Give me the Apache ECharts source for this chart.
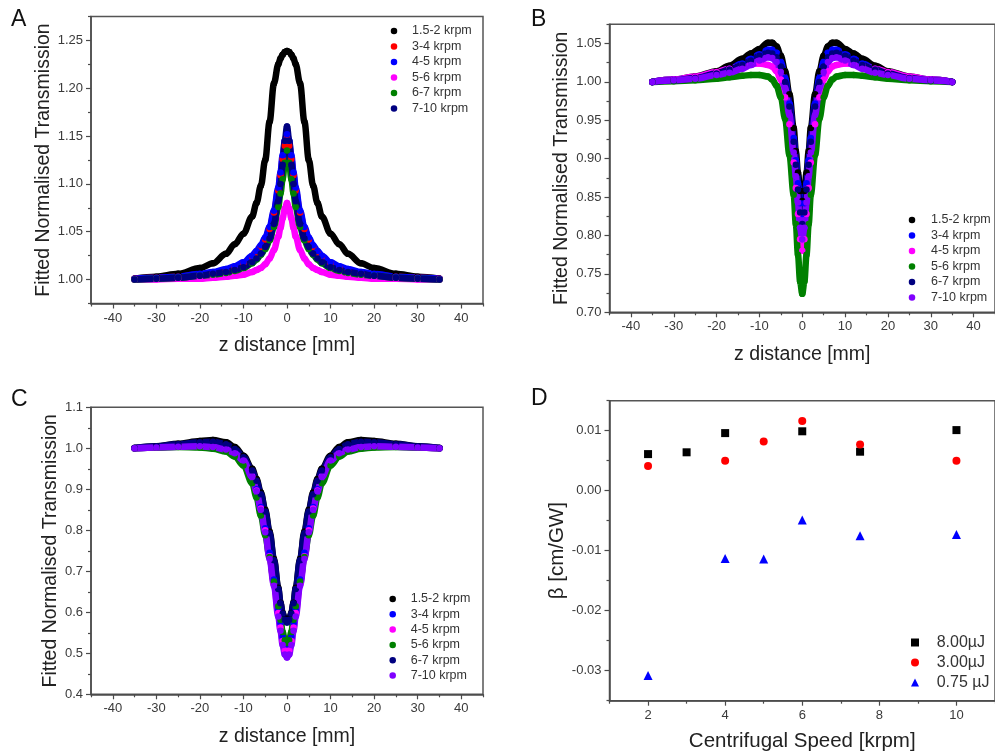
<!DOCTYPE html>
<html><head><meta charset="utf-8">
<script src="https://cdn.jsdelivr.net/npm/echarts@6.0.0/dist/echarts.min.js"></script>
<style>html,body{margin:0;padding:0;background:#fff}#c{width:995px;height:755px}</style>
</head><body><div id="c"></div>
<script>
// ---------- DATA ----------
const Z = [-35,-30,-25,-20,-17,-14,-12,-10,-8,-7,-6,-5,-4,-3,-2,-1.5,-1,-0.5,0,0.5,1,1.5,2,3,4,5,6,7,8,10,12,14,17,20,25,30,35];
const SERIES_NAMES = ['1.5-2 krpm','3-4 krpm','4-5 krpm','5-6 krpm','6-7 krpm','7-10 krpm'];

// Panel A
const A_1_5_2 = [1.001,1.003,1.006,1.012,1.017,1.027,1.037,1.048,1.066,1.080,1.098,1.125,1.165,1.205,1.225,1.231,1.235,1.238,1.239,1.238,1.235,1.231,1.225,1.205,1.165,1.125,1.098,1.080,1.066,1.048,1.037,1.027,1.017,1.012,1.006,1.003,1.001];
const A_3_4 = [1.001,1.002,1.003,1.005,1.007,1.010,1.013,1.017,1.024,1.028,1.034,1.042,1.053,1.070,1.093,1.109,1.126,1.140,1.148,1.140,1.126,1.109,1.093,1.070,1.053,1.042,1.034,1.028,1.024,1.017,1.013,1.010,1.007,1.005,1.003,1.002,1.001];
const A_4_5 = [1.001,1.002,1.003,1.006,1.008,1.011,1.014,1.018,1.025,1.030,1.036,1.044,1.055,1.072,1.096,1.112,1.130,1.145,1.152,1.145,1.130,1.112,1.096,1.072,1.055,1.044,1.036,1.030,1.025,1.018,1.014,1.011,1.008,1.006,1.003,1.002,1.001];
const A_5_6 = [1.000,1.000,1.001,1.001,1.002,1.003,1.004,1.005,1.008,1.010,1.012,1.016,1.022,1.031,1.045,1.054,1.064,1.074,1.080,1.074,1.064,1.054,1.045,1.031,1.022,1.016,1.012,1.010,1.008,1.005,1.004,1.003,1.002,1.001,1.001,1.000,1.000];
const A_6_7 = [1.000,1.001,1.002,1.004,1.005,1.007,1.009,1.012,1.017,1.021,1.026,1.032,1.041,1.055,1.076,1.090,1.105,1.122,1.135,1.122,1.105,1.090,1.076,1.055,1.041,1.032,1.026,1.021,1.017,1.012,1.009,1.007,1.005,1.004,1.002,1.001,1.000];
const A_7_10 = [1.000,1.001,1.002,1.004,1.006,1.008,1.010,1.013,1.018,1.022,1.027,1.034,1.043,1.058,1.082,1.100,1.120,1.145,1.160,1.145,1.120,1.100,1.082,1.058,1.043,1.034,1.027,1.022,1.018,1.013,1.010,1.008,1.006,1.004,1.002,1.001,1.000];

// Panel B
const B_1_5_2 = [1.000,1.003,1.007,1.014,1.021,1.030,1.037,1.043,1.051,1.051,1.046,1.034,1.014,0.984,0.940,0.910,0.882,0.858,0.845,0.858,0.882,0.910,0.940,0.984,1.014,1.034,1.046,1.051,1.051,1.043,1.037,1.030,1.021,1.014,1.007,1.003,1.000];
const B_3_4 = [1.000,1.003,1.006,1.012,1.017,1.024,1.030,1.036,1.042,1.042,1.038,1.026,1.005,0.972,0.927,0.898,0.868,0.842,0.828,0.842,0.868,0.898,0.927,0.972,1.005,1.026,1.038,1.042,1.042,1.036,1.030,1.024,1.017,1.012,1.006,1.003,1.000];
const B_4_5 = [1.000,1.003,1.007,1.013,1.017,1.021,1.023,1.024,1.022,1.020,1.014,1.003,0.980,0.945,0.895,0.862,0.828,0.795,0.780,0.795,0.828,0.862,0.895,0.945,0.980,1.003,1.014,1.020,1.022,1.024,1.023,1.021,1.017,1.013,1.007,1.003,1.000];
const B_5_6 = [1.000,1.001,1.002,1.004,1.006,1.008,1.009,1.009,1.007,1.003,0.995,0.980,0.952,0.905,0.853,0.815,0.775,0.740,0.724,0.740,0.775,0.815,0.853,0.905,0.952,0.980,0.995,1.003,1.007,1.009,1.009,1.008,1.006,1.004,1.002,1.001,1.000];
const B_6_7 = [1.000,1.002,1.005,1.011,1.016,1.022,1.028,1.034,1.038,1.037,1.032,1.020,1.000,0.968,0.922,0.892,0.860,0.830,0.815,0.830,0.860,0.892,0.922,0.968,1.000,1.020,1.032,1.037,1.038,1.034,1.028,1.022,1.016,1.011,1.005,1.002,1.000];
const B_7_10 = [1.000,1.002,1.004,1.009,1.012,1.017,1.022,1.028,1.032,1.031,1.026,1.013,0.992,0.957,0.908,0.877,0.843,0.810,0.795,0.810,0.843,0.877,0.908,0.957,0.992,1.013,1.026,1.031,1.032,1.028,1.022,1.017,1.012,1.009,1.004,1.002,1.000];

// Panel C
const C_1_5_2 = [1.001,1.005,1.011,1.018,1.020,1.015,1.003,0.982,0.950,0.925,0.892,0.850,0.797,0.730,0.660,0.623,0.598,0.585,0.580,0.585,0.598,0.623,0.660,0.730,0.797,0.850,0.892,0.925,0.950,0.982,1.003,1.015,1.020,1.018,1.011,1.005,1.001];
const C_3_4 = [1.000,1.002,1.004,1.006,1.004,0.999,0.990,0.972,0.933,0.900,0.857,0.805,0.745,0.680,0.607,0.573,0.540,0.517,0.510,0.517,0.540,0.573,0.607,0.680,0.745,0.805,0.857,0.900,0.933,0.972,0.990,0.999,1.004,1.006,1.004,1.002,1.000];
const C_4_5 = [1.000,1.002,1.004,1.005,1.004,0.998,0.989,0.971,0.931,0.897,0.853,0.800,0.737,0.670,0.598,0.563,0.530,0.507,0.500,0.507,0.530,0.563,0.598,0.670,0.737,0.800,0.853,0.897,0.931,0.971,0.989,0.998,1.004,1.005,1.004,1.002,1.000];
const C_5_6 = [1.000,1.002,1.003,1.002,0.999,0.992,0.980,0.958,0.915,0.880,0.836,0.788,0.735,0.675,0.615,0.582,0.552,0.532,0.525,0.532,0.552,0.582,0.615,0.675,0.735,0.788,0.836,0.880,0.915,0.958,0.980,0.992,0.999,1.002,1.003,1.002,1.000];
const C_6_7 = [1.001,1.005,1.010,1.015,1.016,1.010,0.998,0.978,0.946,0.921,0.888,0.846,0.793,0.727,0.657,0.622,0.597,0.582,0.575,0.582,0.597,0.622,0.657,0.727,0.793,0.846,0.888,0.921,0.946,0.978,0.998,1.010,1.016,1.015,1.010,1.005,1.001];
const C_7_10 = [1.000,1.002,1.004,1.005,1.003,0.997,0.988,0.970,0.930,0.895,0.850,0.795,0.730,0.665,0.590,0.555,0.520,0.497,0.490,0.497,0.520,0.555,0.590,0.665,0.730,0.795,0.850,0.895,0.930,0.970,0.988,0.997,1.003,1.005,1.004,1.002,1.000];

// Panel D
const D_NAMES = ['8.00\u00b5J','3.00\u00b5J','0.75 \u00b5J'];
const D_X_800 = [2,3,4,6,7.5,10];
const D_Y_800 = [0.0061,0.0064,0.0096,0.0099,0.0065,0.0101];
const D_X_300 = [2,4,5,6,7.5,10];
const D_Y_300 = [0.0041,0.0050,0.0082,0.0116,0.0077,0.0050];
const D_X_075 = [2,4,5,6,7.5,10];
const D_Y_075 = [-0.0308,-0.0113,-0.0114,-0.0049,-0.0075,-0.0073];

// Tick values
const Z_TICKS = [-40,-30,-20,-10,0,10,20,30,40];
const Z_MINOR = [-45,-35,-25,-15,-5,5,15,25,35,45];
const A_Y_TICKS = [1.00,1.05,1.10,1.15,1.20,1.25];
const A_Y_MINOR = [0.975,1.025,1.075,1.125,1.175,1.225,1.275];
const B_Y_TICKS = [0.70,0.75,0.80,0.85,0.90,0.95,1.00,1.05];
const B_Y_MINOR = [0.725,0.775,0.825,0.875,0.925,0.975,1.025,1.075];
const C_Y_TICKS = [0.4,0.5,0.6,0.7,0.8,0.9,1.0,1.1];
const C_Y_MINOR = [0.45,0.55,0.65,0.75,0.85,0.95,1.05];
const D_X_TICKS = [2,4,6,8,10];
const D_X_MINOR = [1,3,5,7,9,11];
const D_Y_TICKS = [-0.03,-0.02,-0.01,0.00,0.01];
const D_Y_MINOR = [-0.035,-0.025,-0.015,-0.005,0.005,0.015];

// ---------- STYLE / LAYOUT ----------
const FONT = "'Liberation Sans', Arial, sans-serif";
const AXIS_COLOR = '#4a4a4a';
const A_COLORS = ['#000000','#ff0000','#0000ff','#ff00ff','#008000','#000080'];
const BC_COLORS = ['#000000','#0000ff','#ff00ff','#008000','#000080','#8000ff'];

const panels = [
  {key:'A', rect:{left:91, top:16.5, width:392, height:287}, x:[-45,45], y:[0.975,1.275],
   xT:Z_TICKS, xM:Z_MINOR, yT:A_Y_TICKS, yM:A_Y_MINOR, yDec:2, xDec:0,
   xName:'z distance [mm]', yName:'Fitted Normalised Transmission', xGap:32, yGap:36, nameSize:19.5},
  {key:'B', rect:{left:609.5, top:24.3, width:392, height:288}, x:[-45,45], y:[0.70,1.075],
   xT:Z_TICKS, xM:Z_MINOR, yT:B_Y_TICKS, yM:B_Y_MINOR, yDec:2, xDec:0,
   xName:'z distance [mm]', yName:'Fitted Normalised Transmission', xGap:32, yGap:38, nameSize:19.5},
  {key:'C', rect:{left:91, top:407.3, width:392, height:287}, x:[-45,45], y:[0.4,1.1],
   xT:Z_TICKS, xM:Z_MINOR, yT:C_Y_TICKS, yM:C_Y_MINOR, yDec:1, xDec:0,
   xName:'z distance [mm]', yName:'Fitted Normalised Transmission', xGap:32, yGap:28, nameSize:19.5},
  {key:'D', rect:{left:609.5, top:400.7, width:393, height:300}, x:[1,11], y:[-0.035,0.015],
   xT:D_X_TICKS, xM:D_X_MINOR, yT:D_Y_TICKS, yM:D_Y_MINOR, yDec:2, xDec:0,
   xName:'Centrifugal Speed [krpm]', yName:'\u03b2 [cm/GW]', xGap:30, yGap:40, nameSize:20.5}
];

const grid = [], xAxis = [], yAxis = [];
panels.forEach((p) => {
  grid.push(Object.assign({show:true, borderColor:'#555555', borderWidth:1.5, backgroundColor:'transparent', containLabel:false}, p.rect));
  grid.push(Object.assign({show:false, containLabel:false}, p.rect));
  const gi = grid.length - 2;
  const nameStyle = {fontFamily:FONT, fontSize:p.nameSize, color:'#222'};
  const lblStyle = {fontFamily:FONT, fontSize:13, color:'#3a3a3a'};
  xAxis.push({gridIndex:gi, type:'value', min:p.x[0], max:p.x[1],
    axisLine:{show:true, onZero:false, lineStyle:{color:AXIS_COLOR, width:1.5}},
    axisTick:{show:true, customValues:p.xT, length:5, lineStyle:{color:AXIS_COLOR, width:1.2}},
    axisLabel:Object.assign({customValues:p.xT, margin:8, formatter:v=>Number(v).toFixed(p.xDec)}, lblStyle),
    splitLine:{show:false},
    name:p.xName, nameLocation:'middle', nameGap:p.xGap, nameTextStyle:nameStyle});
  xAxis.push({gridIndex:gi+1, type:'value', min:p.x[0], max:p.x[1], position:'bottom',
    axisLine:{show:false, onZero:false}, axisLabel:{show:false}, splitLine:{show:false},
    axisTick:{show:true, customValues:p.xM, length:3, lineStyle:{color:AXIS_COLOR, width:1.2}}});
  yAxis.push({gridIndex:gi, type:'value', min:p.y[0], max:p.y[1],
    axisLine:{show:true, onZero:false, lineStyle:{color:AXIS_COLOR, width:1.5}},
    axisTick:{show:true, customValues:p.yT, length:5, lineStyle:{color:AXIS_COLOR, width:1.2}},
    axisLabel:Object.assign({customValues:p.yT, margin:8, formatter:v=>Number(v).toFixed(p.yDec)}, lblStyle),
    splitLine:{show:false},
    name:p.yName, nameLocation:'middle', nameGap:p.yGap, nameTextStyle:nameStyle});
  yAxis.push({gridIndex:gi+1, type:'value', min:p.y[0], max:p.y[1], position:'left',
    axisLine:{show:false, onZero:false}, axisLabel:{show:false}, splitLine:{show:false},
    axisTick:{show:true, customValues:p.yM, length:3, lineStyle:{color:AXIS_COLOR, width:1.2}}});
});

function curveSeries(key, axisIdx, arrays, colors) {
  return arrays.map((arr, k) => ({
    name: key + '|' + SERIES_NAMES[k],
    type: 'line', xAxisIndex: axisIdx, yAxisIndex: axisIdx,
    data: Z.map((z, i) => [z, arr[i]]),
    smooth: 0.35, smoothMonotone: 'x',
    symbol: 'circle', symbolSize: 6.5, showSymbol: true,
    lineStyle: {width: 6.5, color: colors[k], cap: 'round', join: 'round'},
    itemStyle: {color: colors[k], borderWidth: 0, opacity: 1},
    emphasis: {disabled: true}
  }));
}

const series = [].concat(
  curveSeries('A', 0, [A_1_5_2, A_3_4, A_4_5, A_5_6, A_6_7, A_7_10], A_COLORS),
  curveSeries('B', 2, [B_1_5_2, B_3_4, B_4_5, B_5_6, B_6_7, B_7_10], BC_COLORS),
  curveSeries('C', 4, [C_1_5_2, C_3_4, C_4_5, C_5_6, C_6_7, C_7_10], BC_COLORS)
);
const dSets = [[D_X_800, D_Y_800, 'rect', 8, '#000000'], [D_X_300, D_Y_300, 'circle', 8, '#ff0000'], [D_X_075, D_Y_075, 'triangle', 9, '#0000ff']];
dSets.forEach((s, k) => {
  series.push({name:'D|' + D_NAMES[k], type:'scatter', xAxisIndex:6, yAxisIndex:6,
    data: s[0].map((x, i) => [x, s[1][i]]), symbol:s[2], symbolSize:s[3],
    itemStyle:{color:s[4], opacity:1}, emphasis:{disabled:true}});
});

function legendFor(key, names, icons, pos, size, pad, fontSize, lineH, gap) {
  return {orient:'vertical', left:pos[0], top:pos[1], padding:0, itemWidth:size, itemHeight:size, itemGap:gap,
    selectedMode:false,
    data: names.map((n, i) => ({name: key + '|' + n, icon: icons[i], itemStyle:{opacity:1}})),
    formatter: n => n.split('|')[1],
    textStyle:{fontFamily:FONT, fontSize:fontSize, lineHeight:lineH, color:'#333', padding:[0,0,0,pad]}};
}
const CIRC = ['circle','circle','circle','circle','circle','circle'];
const legend = [
  legendFor('A', SERIES_NAMES, CIRC, [390.75, 24.5], 6.5, 9.75, 12.5, 13, 2.5),
  legendFor('B', SERIES_NAMES, CIRC, [908.75, 213.5], 6.5, 10.75, 12.5, 13, 2.5),
  legendFor('C', SERIES_NAMES, CIRC, [389.45, 592.5], 6.5, 9.75, 12.5, 13, 2.3),
  legendFor('D', D_NAMES, ['rect','circle','triangle'], [911, 634], 8, 12.7, 16, 17, 3)
];

const letters = [['A',19,20],['B',539,20],['C',19,400],['D',539,399]];
const graphic = letters.map(l => ({type:'text', left:l[1]-8, top:l[2]-12,
  style:{text:l[0], font:'23px ' + FONT, fill:'#111'}}));

const chart = echarts.init(document.getElementById('c'), null, {renderer:'canvas'});
chart.setOption({animation:false, backgroundColor:'#ffffff', grid, xAxis, yAxis, series, legend, graphic});
</script></body></html>
